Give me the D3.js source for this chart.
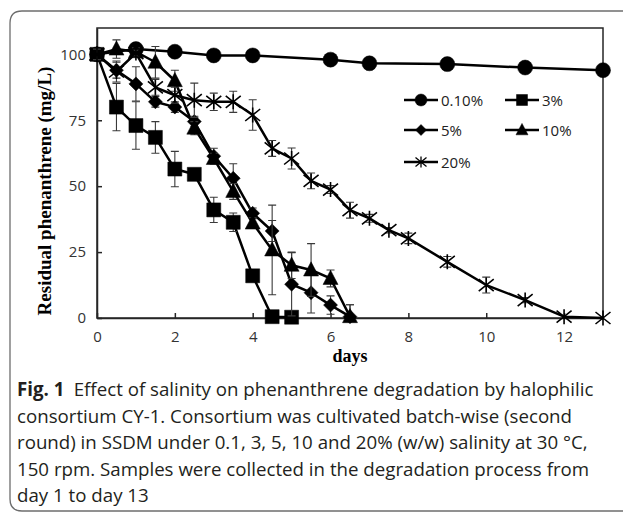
<!DOCTYPE html>
<html>
<head>
<meta charset="utf-8">
<script src="https://cdn.jsdelivr.net/npm/d3@7"></script>
<style>
  body { margin: 0; background: #fff; }
  svg { display: block; }
</style>
</head>
<body>
<div id="chart"></div>
<script>
var width = 623,
    height = 513;

// data
var seriesNames = ["0.10%", "3%", "5%", "10%", "20%"];

var days01 = [0, 1, 2, 3, 4, 6, 7, 9, 11, 13];
var val01  = [100, 102, 101, 99.6, 99.6, 98, 96.6, 96.3, 95, 94];
var err01  = [1.5, 0.5, 0.5, 0.5, 0.5, 0.5, 0.5, 0.5, 0.5, 0.5];

var days3 = [0, 0.5, 1, 1.5, 2, 2.5, 3, 3.5, 4, 4.5, 5];
var val3  = [100, 80, 73, 68.5, 56.5, 54.5, 41, 36.3, 16, 0.5, 0.3];
var err3  = [2, 9, 9, 6, 6.7, 1.5, 4.8, 3.5, 1, 0.3, 0.3];

var days5 = [0, 0.5, 1, 1.5, 2, 2.5, 3, 3.5, 4, 4.5, 5, 5.5, 6, 6.5];
var val5  = [100, 94, 88.8, 82, 80, 74.5, 61.4, 53, 39.7, 33, 12.8, 9.6, 4.9, 0.5];
var err5  = [1, 3, 6.5, 2, 2, 2, 3, 5.5, 2, 4, 12, 7.7, 3.5, 4.5];

var days10 = [0, 0.5, 1, 1.5, 2, 2.5, 3, 3.5, 4, 4.5, 5, 5.5, 6, 6.5];
var val10  = [100, 102, 101, 97, 90, 72, 60.5, 48, 36, 25.8, 20, 18.2, 15, 0.5];
var err10  = [1, 3.5, 1.5, 6, 4, 2.5, 2, 3, 2, 17, 5, 10, 3.2, 4.5];

var days20 = [0, 0.5, 1, 1.5, 2, 2.5, 3, 3.5, 4, 4.5, 5, 5.5, 6, 6.5, 7, 7.5, 8, 9, 10, 11, 12, 13];
var val20  = [100, 93.5, 100.5, 87.5, 84.5, 82.6, 82, 82, 77, 64.3, 60.5, 52, 48.7, 40.9, 37.8, 33.3, 30.2, 21.3, 12.5, 6.8, 0.5, 0];
var err20  = [2, 4, 1, 3, 3, 6.5, 3.3, 4, 5.8, 3, 4, 3, 1.5, 3, 1.5, 1, 2, 2, 3, 1, 0.5, 0];

var yTicks = [0, 25, 50, 75, 100];
var xTicks = [0, 2, 4, 6, 8, 10, 12];

var captionLines = [
  "Effect of salinity on phenanthrene degradation by halophilic",
  "consortium CY-1. Consortium was cultivated batch-wise (second",
  "round) in SSDM under 0.1, 3, 5, 10 and 20% (w/w) salinity at 30 \u00b0C,",
  "150 rpm. Samples were collected in the degradation process from",
  "day 1 to day 13"
];

var series = [
  {name: seriesNames[0], shape: "circle",   days: days01, vals: val01, errs: err01},
  {name: seriesNames[1], shape: "square",   days: days3,  vals: val3,  errs: err3},
  {name: seriesNames[2], shape: "diamond",  days: days5,  vals: val5,  errs: err5},
  {name: seriesNames[3], shape: "triangle", days: days10, vals: val10, errs: err10},
  {name: seriesNames[4], shape: "asterisk", days: days20, vals: val20, errs: err20}
];

var plot = {left: 97, right: 603, top: 28, bottom: 318};

var svg = d3.select("#chart")
    .append("svg")
    .attr("width", width)
    .attr("height", height);

// outer figure box (open on the right)
svg.append("path")
    .attr("d", "M623,11 H22 Q10,11 10,23 V499 Q10,511 22,511 H623")
    .attr("fill", "none")
    .attr("stroke", "#6d6d6d")
    .attr("stroke-width", 1.3);

var x = d3.scaleLinear().domain([0, 13]).range([plot.left, plot.right]);
var y = d3.scaleLinear().domain([0, 110]).range([plot.bottom, plot.top]);

// frame
svg.append("rect")
    .attr("x", plot.left).attr("y", plot.top)
    .attr("width", plot.right - plot.left)
    .attr("height", plot.bottom - plot.top)
    .attr("fill", "none")
    .attr("stroke", "#262626")
    .attr("stroke-width", 1.5);

var xAxis = svg.append("g")
    .attr("transform", "translate(0," + plot.bottom + ")")
    .call(d3.axisBottom(x).tickValues(xTicks).tickSizeInner(-5).tickSizeOuter(0).tickPadding(13));
var yAxis = svg.append("g")
    .attr("transform", "translate(" + plot.left + ",0)")
    .call(d3.axisLeft(y).tickValues(yTicks).tickSizeInner(-5).tickSizeOuter(0).tickPadding(11));

[xAxis, yAxis].forEach(function(ax) {
  ax.select(".domain").attr("stroke", "#262626").attr("stroke-width", 1.5);
  ax.selectAll(".tick line").attr("stroke", "#262626").attr("stroke-width", 1.5);
  ax.selectAll(".tick text")
    .attr("fill", "#333")
    .style("font-family", "'Open Sans', sans-serif")
    .style("font-size", "15px");
});

svg.append("text")
    .attr("transform", "translate(51,191) rotate(-90)")
    .attr("text-anchor", "middle")
    .style("font-family", "'Liberation Serif', serif")
    .style("font-weight", "bold")
    .style("font-size", "19px")
    .text("Residual phenanthrene (mg/L)");

svg.append("text")
    .attr("x", 350).attr("y", 362)
    .attr("text-anchor", "middle")
    .style("font-family", "'Liberation Serif', serif")
    .style("font-weight", "bold")
    .style("font-size", "18px")
    .text("days");

function markerPath(shape, s) {
  // s = half size
  if (shape === "circle") return d3.symbol(d3.symbolCircle, Math.PI * s * s)();
  if (shape === "square") return "M" + (-s) + "," + (-s) + "h" + (2 * s) + "v" + (2 * s) + "h" + (-2 * s) + "Z";
  if (shape === "diamond") return "M0," + (-s) + "L" + s + ",0L0," + s + "L" + (-s) + ",0Z";
  if (shape === "triangle") return "M0," + (-s * 1.1) + "L" + s + "," + (s * 0.8) + "L" + (-s) + "," + (s * 0.8) + "Z";
  // asterisk: X plus vertical stroke
  return "M" + (-s) + "," + (-s * 0.8) + "L" + s + "," + (s * 0.8) +
         "M" + (-s) + "," + (s * 0.8) + "L" + s + "," + (-s * 0.8) +
         "M0," + (-s) + "V" + s;
}
var markerSize = {circle: 7.5, square: 7, diamond: 7, triangle: 7.5, asterisk: 7.5};
var legendSize = {circle: 6, square: 5.5, diamond: 5.5, triangle: 6, asterisk: 5.5};

var line = d3.line()
    .x(function(d) { return x(d.day); })
    .y(function(d) { return y(d.val); });

series.forEach(function(s) {
  var pts = s.days.map(function(d, i) { return {day: d, val: s.vals[i], err: s.errs[i]}; });
  var g = svg.append("g").attr("class", "series");

  g.append("path")
      .datum(pts)
      .attr("d", line)
      .attr("fill", "none")
      .attr("stroke", "#000")
      .attr("stroke-width", 2.5)
      .attr("stroke-linejoin", "round");

  g.selectAll(".err")
    .data(pts.filter(function(d) { return d.err > 0.6; }))
    .enter().append("path")
      .attr("class", "err")
      .attr("d", function(d) {
        var cx = x(d.day), y1 = y(d.val + d.err), y0 = y(Math.max(0, d.val - d.err));
        return "M" + cx + "," + y1 + "V" + y0 +
               "M" + (cx - 4) + "," + y1 + "h8" +
               "M" + (cx - 4) + "," + y0 + "h8";
      })
      .attr("fill", "none")
      .attr("stroke", "#3a3a3a")
      .attr("stroke-width", 1.1);

  g.selectAll(".mk")
    .data(pts)
    .enter().append("path")
      .attr("class", "mk")
      .attr("transform", function(d) { return "translate(" + x(d.day) + "," + y(d.val) + ")"; })
      .attr("d", markerPath(s.shape, markerSize[s.shape]))
      .attr("fill", s.shape === "asterisk" ? "none" : "#000")
      .attr("stroke", "#000")
      .attr("stroke-width", s.shape === "asterisk" ? 1.6 : 0.5);
});

// legend
var legendPos = [[404, 100], [505, 100], [404, 130], [505, 130], [404, 162]];
series.forEach(function(s, i) {
  var lg = svg.append("g").attr("transform", "translate(" + legendPos[i][0] + "," + legendPos[i][1] + ")");
  lg.append("line").attr("x1", 0).attr("x2", 34).attr("y1", 0).attr("y2", 0)
      .attr("stroke", "#000").attr("stroke-width", 2.5);
  lg.append("path")
      .attr("transform", "translate(17,0)")
      .attr("d", markerPath(s.shape, legendSize[s.shape]))
      .attr("fill", s.shape === "asterisk" ? "none" : "#000")
      .attr("stroke", "#000")
      .attr("stroke-width", s.shape === "asterisk" ? 1.3 : 0.5);
  lg.append("text")
      .attr("x", 37).attr("y", 5.5)
      .attr("fill", "#222")
      .style("font-family", "'Open Sans', sans-serif")
      .style("font-size", "15px")
      .text(s.name);
});

// caption
var cap = svg.append("text")
    .attr("fill", "#231f20")
    .style("font-family", "'Open Sans', sans-serif")
    .style("font-size", "18.7px");
captionLines.forEach(function(t, i) {
  var ts = cap.append("tspan").attr("x", 17).attr("y", 396 + i * 26.5);
  if (i === 0) {
    ts.append("tspan").style("font-weight", "bold").text("Fig. 1");
    ts.append("tspan").text("\u2002" + t);
  } else {
    ts.text(t);
  }
});
</script>
</body>
</html>
